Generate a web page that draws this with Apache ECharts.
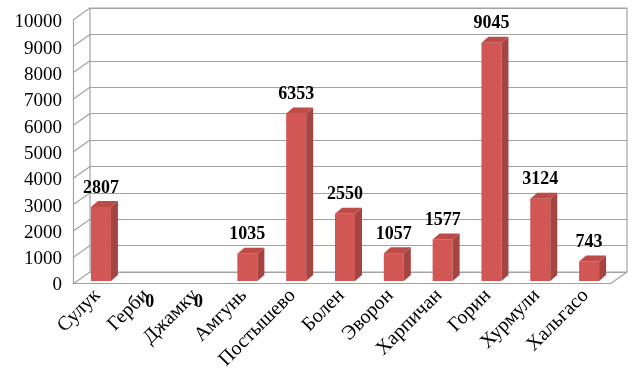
<!DOCTYPE html>
<html>
<head>
<meta charset="utf-8">
<script src="https://cdn.jsdelivr.net/npm/echarts@6/dist/echarts.min.js"></script>
<style>
html,body{margin:0;padding:0;background:#fff;}
#chart{width:641px;height:385px;}
</style>
</head>
<body>
<div id="chart"></div>
<script>
const categories = ['Сулук','Герби','Джамку','Амгунь','Постышево','Болен','Эворон','Харпичан','Горин','Хурмули','Хальгасо'];
const values = [2807,0,0,1035,6353,2550,1057,1577,9045,3124,743];
const yTicks = [0,1000,2000,3000,4000,5000,6000,7000,8000,9000,10000];

const yMin = yTicks[0], yMax = yTicks[yTicks.length-1], yStep = yTicks[1]-yTicks[0];
const serif = 'Liberation Serif';
const lineCol = '#a3a3a3';
const DX = -17, DY = 12;   // back wall -> front edge offset
const BD = 7, BH = -6;     // bar depth offset
const BW = 20;             // bar front width

const chart = echarts.init(document.getElementById('chart'), null, {renderer:'canvas'});
chart.setOption({
  animation:false,
  backgroundColor:'#fff',
  textStyle:{fontFamily:serif},
  grid:[
    {left:90, top:8, width:537, height:264, show:true, borderColor:lineCol, borderWidth:1.2},
    {left:73, top:20, width:537, height:263},
    {left:76.5, top:17.5, width:537, height:263.5},
    {left:73, top:22.5, width:537, height:263}
  ],
  xAxis:[
    {gridIndex:0, type:'value', min:0, max:1, show:false},
    {gridIndex:1, type:'value', min:0, max:1, axisLine:{show:true, onZero:false, lineStyle:{color:lineCol, width:1.2}}, axisTick:{show:false}, axisLabel:{show:false}, splitLine:{show:false}},
    {gridIndex:2, type:'category', data:categories, axisLine:{show:false}, axisTick:{show:false},
     axisLabel:{rotate:45, fontFamily:serif, fontSize:20, color:'#000', margin:8, padding:[0,5,0,0], interval:0}},
    {gridIndex:3, type:'value', min:0, max:1, show:false}
  ],
  yAxis:[
    {gridIndex:0, type:'value', min:yMin, max:yMax, interval:yStep, axisLabel:{show:false}, axisLine:{show:false}, axisTick:{show:false},
     splitLine:{show:true, lineStyle:{color:lineCol, width:1.2}}},
    {gridIndex:1, type:'value', min:yMin, max:yMax, interval:yStep, axisLine:{show:true, lineStyle:{color:lineCol, width:1.2}}, axisTick:{show:false},
     splitLine:{show:false}, axisLabel:{show:false}},
    {gridIndex:2, type:'value', min:yMin, max:yMax, show:false},
    {gridIndex:3, type:'value', min:yMin, max:yMax, interval:yStep, axisLine:{show:false}, axisTick:{show:false}, splitLine:{show:false},
     axisLabel:{fontFamily:serif, fontSize:19, color:'#000', margin:11, formatter:function(v){return String(v);}}}
  ],
  series:[
    {
      type:'custom', xAxisIndex:0, yAxisIndex:0, z:1,
      data:yTicks.map(t=>[0,t]),
      renderItem:function(params, api){
        const p = api.coord([0, api.value(1)]);
        const children = [{type:'line', shape:{x1:p[0], y1:p[1], x2:p[0]+DX, y2:p[1]+DY}, style:{stroke:lineCol, lineWidth:1.2}}];
        if (api.value(1) === yMin) {
          const q = api.coord([1, yMin]);
          children.push({type:'line', shape:{x1:q[0], y1:q[1], x2:q[0]+DX, y2:q[1]+DY}, style:{stroke:lineCol, lineWidth:1.2}});
        }
        return {type:'group', children:children};
      }
    },
    {
      type:'custom', xAxisIndex:2, yAxisIndex:2, z:5,
      data:values.map((v,i)=>[i,v]),
      renderItem:function(params, api){
        const i = api.value(0), v = api.value(1);
        const base = api.coord([i, 0]);
        const top = api.coord([i, v]);
        const x0 = base[0] - BW/2;
        const children = [];
        const ts = {fontFamily:serif, fontSize:18, fontWeight:'bold', fill:'#000', align:'center', verticalAlign:'middle'};
        if (v > 0) {
          const y0 = top[1], y1 = base[1];
          children.push({type:'rect', shape:{x:x0, y:y0, width:BW, height:y1-y0}, style:{fill:'#d25653'}});
          children.push({type:'polygon', shape:{points:[[x0+BW,y0],[x0+BW+BD,y0+BH],[x0+BW+BD,y1+BH],[x0+BW,y1]]}, style:{fill:'#a64441'}});
          children.push({type:'polygon', shape:{points:[[x0,y0],[x0+BD,y0+BH],[x0+BW+BD,y0+BH],[x0+BW,y0]]}, style:{fill:'#bd4c49'}});
          children.push({type:'text', style:Object.assign({text:String(v), x:base[0], y:y0-19}, ts)});
        } else {
          children.push({type:'text', style:Object.assign({text:String(v), x:base[0], y:base[1]+21}, ts)});
        }
        return {type:'group', children:children};
      }
    }
  ]
});
</script>
</body>
</html>
